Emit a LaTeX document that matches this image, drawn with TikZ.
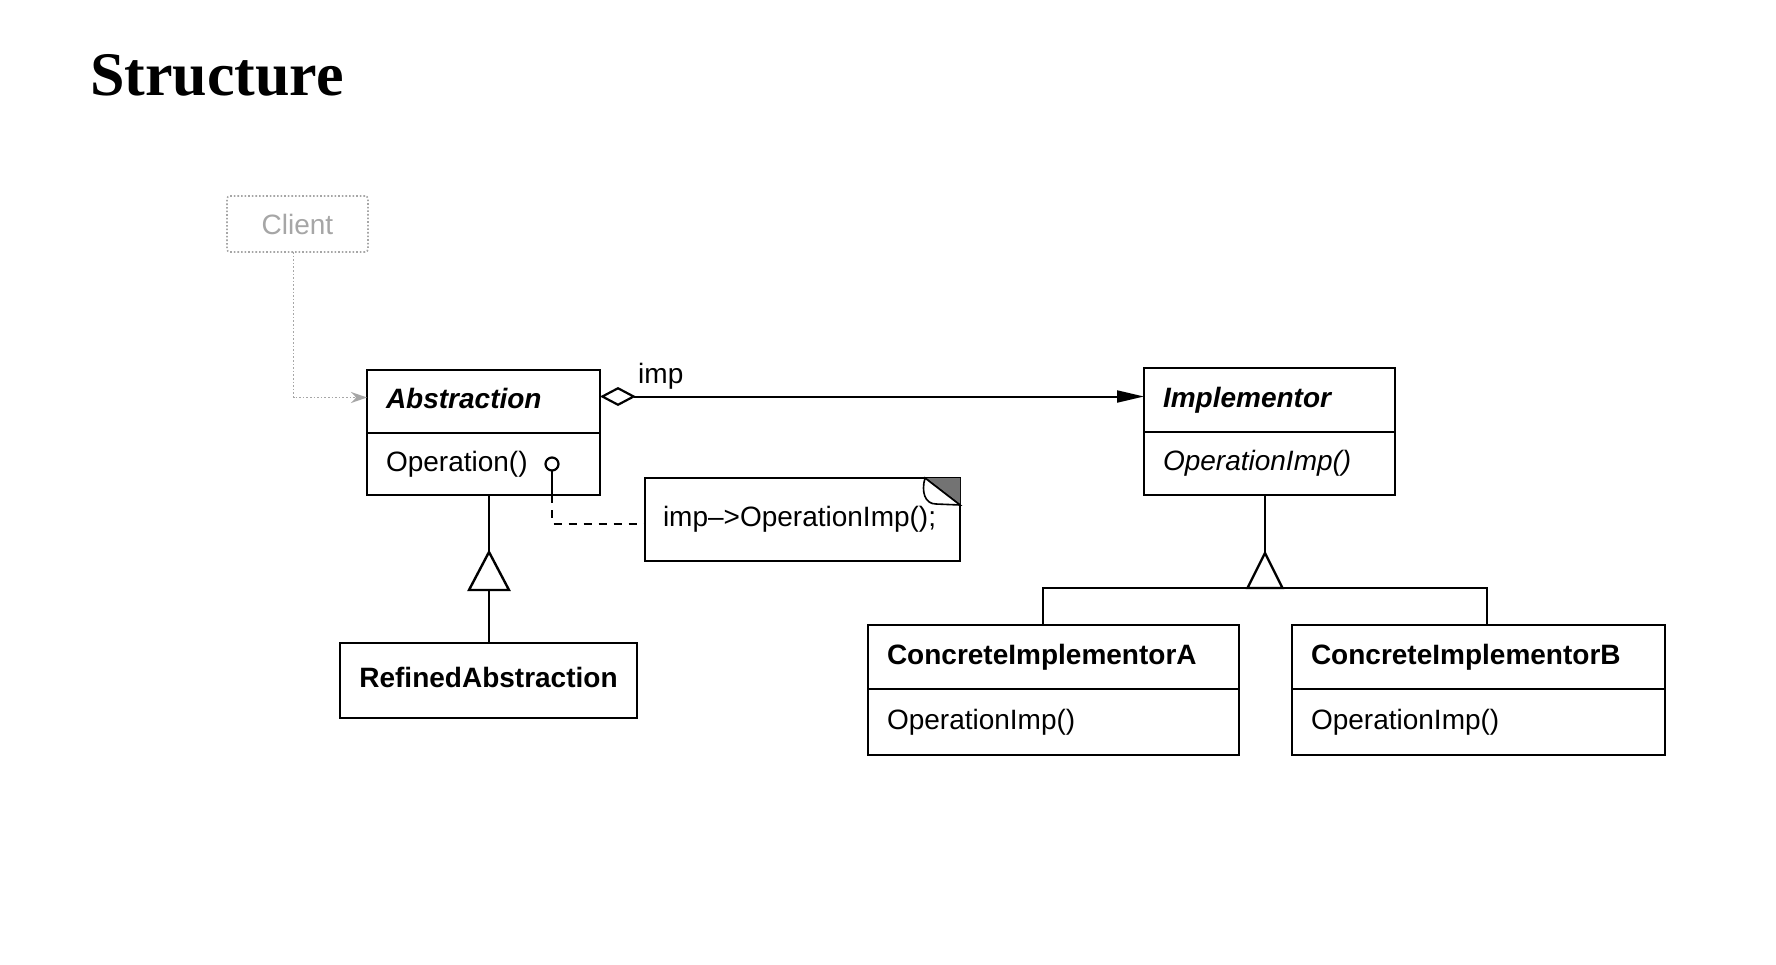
\documentclass[tikz,border=0pt]{standalone}
\usepackage{fontspec}
\setmainfont{Liberation Sans}
\newfontfamily\headfont{Liberation Serif}
\usetikzlibrary{arrows.meta,calc}

\tikzset{
  umltext/.style={font=\fontsize{28}{34}\selectfont},
  % one compartment of a class box: #1 = text width, #2 = height
  classbox/.style 2 args={draw, line width=2.4pt, umltext, anchor=north west,
    inner xsep=19pt, inner ysep=0pt, outer sep=0pt, text width=#1, minimum height=#2,
    align=left, text height=20pt, text depth=6pt},
  conn/.style={line width=2pt},
  gen/.style={line width=2.4pt, fill=white, line join=miter},
}

\begin{document}
\begin{tikzpicture}[x=1pt,y=-1pt]
\useasboundingbox (0,0) rectangle (1776,964);
\fill[white] (0,0) rectangle (1776,964);

% heading
\node[anchor=base west, inner sep=0pt, font=\headfont\bfseries\fontsize{62}{70}\selectfont] (title) at (90,95) {Structure};

% client
\node[draw=gray!70, dotted, line width=1.6pt, rounded corners=3pt, minimum width=141pt,
      minimum height=56pt, anchor=north west, text=gray!70, umltext, outer sep=0pt] (client) at (227,196) {Client};

% Abstraction
\node[classbox={195pt}{63pt}] (abs) at (367,370) {\bfseries\itshape Abstraction};
\node[classbox={195pt}{62pt}] (absops) at (abs.south west) {Operation()};

% RefinedAbstraction
\node[draw, line width=2.4pt, umltext, anchor=north west, minimum width=297pt, outer sep=0pt,
      minimum height=75pt, text height=20pt, text depth=6pt] (refined) at (340,643) {\bfseries RefinedAbstraction};

% Implementor
\node[classbox={213pt}{64pt}] (impl) at (1144,368) {\bfseries\itshape Implementor};
\node[classbox={213pt}{63pt}] (implops) at (impl.south west) {\itshape OperationImp()};

% concrete implementors
\node[classbox={333pt}{64pt}] (cia) at (868,625) {\bfseries ConcreteImplementorA};
\node[classbox={333pt}{66pt}] (ciaops) at (cia.south west) {OperationImp()};
\node[classbox={335pt}{64pt}] (cib) at (1292,625) {\bfseries ConcreteImplementorB};
\node[classbox={335pt}{66pt}] (cibops) at (cib.south west) {OperationImp()};

% note with folded corner
\node[draw, line width=2.4pt, umltext, anchor=north west, inner xsep=18pt, inner ysep=0pt, outer sep=0pt,
      text width=279pt, minimum height=83pt, align=left, text height=20pt, text depth=6pt]
      (note) at (645,478) {imp–>OperationImp();};
\fill[black!55] ([xshift=-35pt]note.north east) -- (note.north east) -- ([yshift=-27pt]note.north east) -- cycle;
\draw[line width=1.6pt] ([xshift=-35pt]note.north east) -- ([yshift=-27pt]note.north east);
\draw[line width=1.6pt, fill=white] ([xshift=-35pt]note.north east)
   .. controls ([xshift=-39pt,yshift=-14pt]note.north east) and ([xshift=-35pt,yshift=-26pt]note.north east)
   .. ([xshift=-24pt,yshift=-26pt]note.north east) -- ([yshift=-27pt]note.north east) -- cycle;

% client -> Abstraction
\draw[gray!70, line width=1.6pt, dotted, -{Stealth[length=16pt,width=11pt]}]
   ([xshift=-4pt]client.south) |- ([yshift=4pt]abs.west);

% aggregation Abstraction -> Implementor
\draw[conn, {Diamond[open, length=36pt, width=19pt, line width=2.2pt]}-{Triangle[length=27pt, width=12pt]}]
   ([yshift=5pt]abs.east) -- ([yshift=5pt]abs.east -| impl.west);
\node[anchor=base west, inner sep=0pt, umltext] (implabel) at (638,383) {imp};

% pin on Operation() and dashed link to the note
\node[circle, draw, line width=2.2pt, minimum size=13pt, inner sep=0pt, outer sep=0pt] (pin) at (552,464) {};
\draw[conn] (pin.south) -- (pin.south |- absops.south);
\draw[conn, dash pattern=on 8pt off 7pt] (pin.south |- absops.south) |- ([yshift=-4pt]note.west);

% Abstraction <|-- RefinedAbstraction
\coordinate (apexA) at (489,552);
\draw[conn] (apexA |- absops.south) -- (apexA);
\draw[gen] (apexA) -- ++(-20,38) -- ++(40,0) -- cycle;
\draw[conn] ([yshift=-38pt]apexA) -- (apexA |- refined.north);

% Implementor <|-- concrete implementors
\coordinate (apexB) at (1265,553);
\coordinate (barA) at (1043,588);
\coordinate (barB) at (1487,588);
\draw[conn] (apexB |- implops.south) -- (apexB);
\draw[conn] (barA |- cia.north) -- (barA) -- (barB) -- (barB |- cib.north);
\draw[gen] (apexB) -- ++(-17.5,35) -- ++(35,0) -- cycle;
\end{tikzpicture}
\end{document}
